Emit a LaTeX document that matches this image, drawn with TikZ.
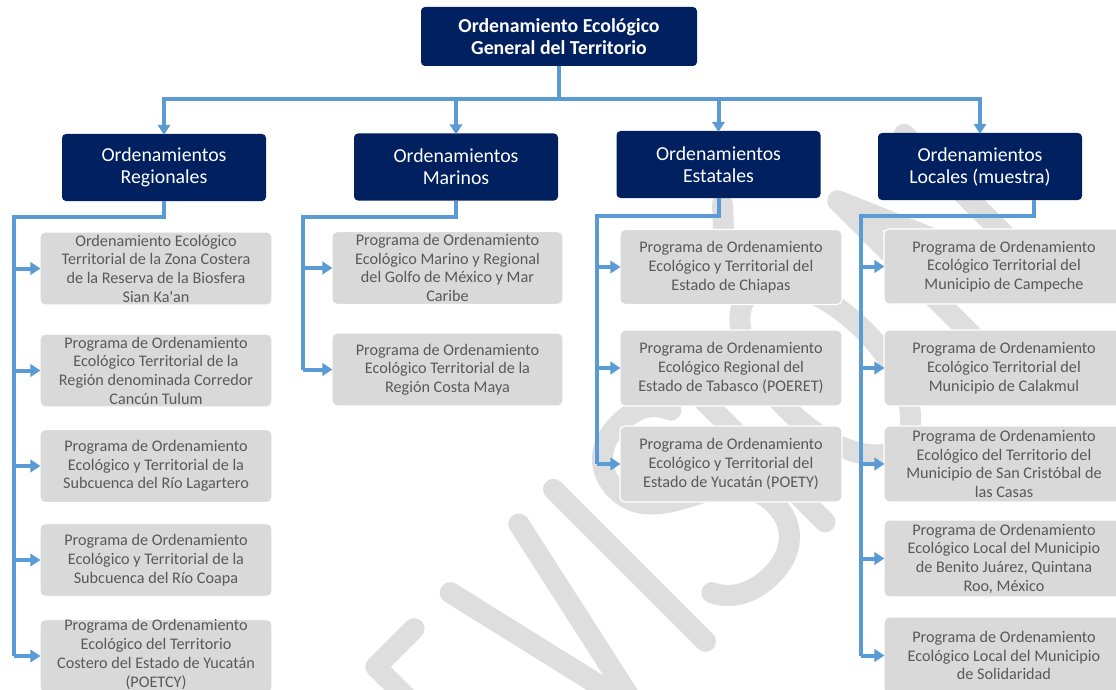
\documentclass[tikz,border=0pt]{standalone}
\usepackage{fontspec}
\setmainfont{Carlito}
\usetikzlibrary{arrows.meta,calc}
\definecolor{navy}{HTML}{002060}
\definecolor{boxgray}{HTML}{D9D9D9}
\definecolor{txtgray}{HTML}{595959}
\definecolor{lblue}{HTML}{5B9BD5}
\definecolor{wmark}{HTML}{DEDEDE}
\begin{document}
\begin{tikzpicture}[x=1pt,y=-1pt,
  topbox/.style={fill=navy, rounded corners=4pt, text=white, align=center, inner sep=0pt,
    font=\fontsize{19.8}{21.5}\selectfont\bfseries},
  headbox/.style={fill=navy, rounded corners=4pt, text=white, align=center, inner sep=0pt,
    minimum width=204pt, minimum height=67pt, font=\fontsize{19.8}{22}\selectfont},
  gbox/.style={fill=boxgray, draw=white, line width=1.2pt, rounded corners=5pt, text=txtgray, align=center, inner sep=0pt,
    minimum height=73pt, font=\fontsize{16.2}{18.7}\selectfont},
  wire/.style={draw=lblue, line width=4pt},
  arr/.style={draw=lblue, line width=4pt, -{Triangle[length=10pt,width=12.5pt]}, shorten >=-1pt},
  wm/.style={draw=wmark, line width=21pt, line cap=round, line join=round}
]
\useasboundingbox (0,0) rectangle (1116,690);
\clip (0,0) rectangle (1116,690);
\fill[white] (0,0) rectangle (1116,690);

% watermark (rotated letters)
\begin{scope}[shift={(528,833)}, x={(0.7071pt,0.7071pt)}, y={(-0.7071pt,0.7071pt)}]
  % E
  \draw[wm] (66,10) -- (10,10) -- (10,225) -- (64,225);
  \draw[wm] (10,118) -- (58,118);
  % V
  \draw[wm] (115,225) -- (165,10) -- (212,225);
  % I
  \draw[wm] (261,10) -- (261,225);
  % S
  \draw[wm] (400,198) .. controls (392,218) and (375,225) .. (352,225)
    .. controls (325,225) and (305,208) .. (305,180)
    .. controls (305,150) and (330,135) .. (355,122)
    .. controls (385,107) and (407,90) .. (407,57)
    .. controls (407,28) and (385,10) .. (355,10)
    .. controls (328,10) and (308,22) .. (300,40);
  % I
  \draw[wm] (430,10) -- (430,225);
  % O with accent
  \draw[wm] (483,117.5) .. controls (483,176.9) and (507.6,225) .. (538,225)
    .. controls (568.4,225) and (593,176.9) .. (593,117.5)
    .. controls (593,58.1) and (568.4,10) .. (538,10)
    .. controls (507.6,10) and (483,58.1) .. (483,117.5) -- cycle;
  \draw[wm] (550,272) -- (582,307);
  % N
  \draw[wm] (666,10) -- (666,228) -- (760,10) -- (760,228);
\end{scope}

% top
\node[topbox, minimum width=276pt, minimum height=59pt] (top) at (559,36.5)
  {Ordenamiento Ecológico\\General del Territorio};

% headers
\node[headbox] (reg) at (164,167.5) {Ordenamientos\\Regionales};
\node[headbox] (mar) at (456,167) {Ordenamientos\\Marinos};
\node[headbox] (est) at (718.5,164.5) {Ordenamientos\\Estatales};
\node[headbox] (loc) at (980,166.5) {Ordenamientos\\Locales (muestra)};

% column 1
\node[gbox, minimum width=232pt] (r1) at (156,268.5) {Ordenamiento Ecológico\\Territorial de la Zona Costera\\de la Reserva de la Biosfera\\Sian Ka\textquotesingle an};
\node[gbox, minimum width=232pt] (r2) at (156,370.5) {Programa de Ordenamiento\\Ecológico Territorial de la\\Región denominada Corredor\\Cancún Tulum};
\node[gbox, minimum width=232pt] (r3) at (156,466) {Programa de Ordenamiento\\Ecológico y Territorial de la\\Subcuenca del Río Lagartero};
\node[gbox, minimum width=232pt] (r4) at (156,560) {Programa de Ordenamiento\\Ecológico y Territorial de la\\Subcuenca del Río Coapa};
\node[gbox, minimum width=232pt] (r5) at (156,656) {};
\node[text=txtgray, align=center, inner sep=0pt, font=\fontsize{16.2}{18.7}\selectfont] (r5t) at (156,654.5) {Programa de Ordenamiento\\Ecológico del Territorio\\Costero del Estado de Yucatán\\(POETCY)};

% column 2
\node[gbox, minimum width=231pt] (m1) at (447.5,268) {Programa de Ordenamiento\\Ecológico Marino y Regional\\del Golfo de México y Mar\\Caribe};
\node[gbox, minimum width=231pt] (m2) at (447.5,369.5) {Programa de Ordenamiento\\Ecológico Territorial de la\\Región Costa Maya};

% column 3
\node[gbox, minimum width=222pt, minimum height=75pt] (e1) at (731,267) {Programa de Ordenamiento\\Ecológico y Territorial del\\Estado de Chiapas};
\node[gbox, minimum width=222pt, minimum height=76pt] (e2) at (731,368) {Programa de Ordenamiento\\Ecológico Regional del\\Estado de Tabasco (POERET)};
\node[gbox, minimum width=222pt, minimum height=76pt] (e3) at (731,464) {Programa de Ordenamiento\\Ecológico y Territorial del\\Estado de Yucatán (POETY)};

% column 4
\node[gbox, minimum width=240pt, minimum height=75pt] (l1) at (1004,266.5) {Programa de Ordenamiento\\Ecológico Territorial del\\Municipio de Campeche};
\node[gbox, minimum width=240pt, minimum height=76pt] (l2) at (1004,368) {Programa de Ordenamiento\\Ecológico Territorial del\\Municipio de Calakmul};
\node[gbox, minimum width=240pt, minimum height=76pt] (l3) at (1004,464) {Programa de Ordenamiento\\Ecológico del Territorio del\\Municipio de San Cristóbal de\\las Casas};
\node[gbox, minimum width=240pt, minimum height=77pt] (l4) at (1004,558.5) {Programa de Ordenamiento\\Ecológico Local del Municipio\\de Benito Juárez, Quintana\\Roo, México};
\node[gbox, minimum width=240pt, minimum height=77pt] (l5) at (1004,655.5) {Programa de Ordenamiento\\Ecológico Local del Municipio\\de Solidaridad};

% top connectors
\coordinate (hb) at (559,99);
\draw[wire] (top.south) -- (hb);
\draw[wire, line cap=rect] (reg.north |- hb) -- (loc.north |- hb);
\draw[arr] (reg.north |- hb) -- (reg.north);
\draw[arr] (mar.north |- hb) -- (mar.north);
\draw[arr] (est.north |- hb) -- (est.north);
\draw[arr] (loc.north |- hb) -- (loc.north);

% column 1 connectors
\coordinate (rv) at (14,217);
\draw[wire, line join=miter] (reg.south) |- (rv) -- (rv |- r5.west);
\foreach \n in {r1,r2,r3,r4,r5} \draw[arr] (rv |- \n.west) -- (\n.west);

% column 2 connectors
\coordinate (mv) at (303,217);
\draw[wire, line join=miter] (mar.south) |- (mv) -- (mv |- m2.west);
\foreach \n in {m1,m2} \draw[arr] (mv |- \n.west) -- (\n.west);

% column 3 connectors
\coordinate (ev) at (597,216);
\draw[wire, line join=miter] (est.south) |- (ev) -- (ev |- e3.west);
\foreach \n in {e1,e2,e3} \draw[arr] (ev |- \n.west) -- (\n.west);

% column 4 connectors
\coordinate (ls) at (1034,0);
\coordinate (lv) at (861,216);
\draw[wire, line join=miter] (loc.south -| ls) |- (lv) -- (lv |- l5.west);
\foreach \n in {l1,l2,l3,l4,l5} \draw[arr] (lv |- \n.west) -- (\n.west);
\end{tikzpicture}
\end{document}
